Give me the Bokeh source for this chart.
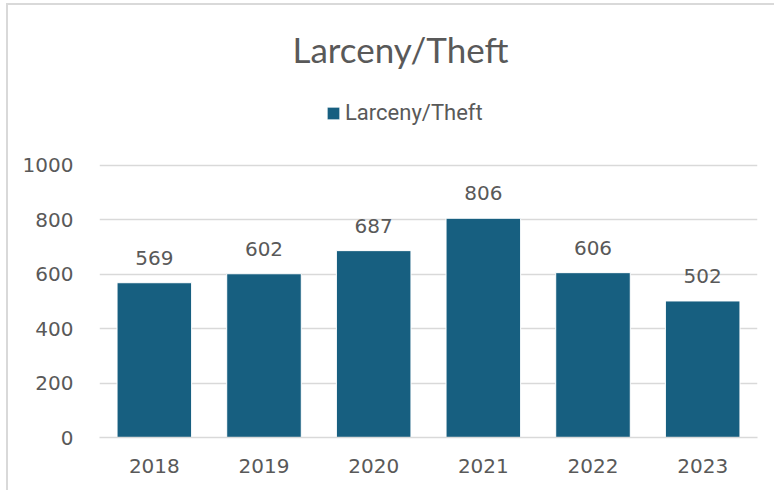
from bokeh.plotting import figure
from bokeh.models import ColumnDataSource, Label, Legend, LegendItem, FixedTicker
from bokeh.embed import file_html
from bokeh.resources import INLINE
from bokeh.core.properties import value

years = ["2018", "2019", "2020", "2021", "2022", "2023"]
counts = [569, 602, 687, 806, 606, 502]
labels = [str(c) for c in counts]
y_ticks = [0, 200, 400, 600, 800, 1000]
title_text = "Larceny/Theft"
series_name = "Larceny/Theft"

BAR = "#175F80"
TXT = "#595959"
GRID = "#D9D9D9"
FONT = "DejaVu Sans"

src = ColumnDataSource(dict(x=years, top=counts, label=labels))

W, H = 774, 490
FL, FB = 99, 437  # frame left / bottom in canvas pixels
p = figure(x_range=years, y_range=(0, 1606.6), width=W, height=H,
           output_backend="svg", toolbar_location=None,
           min_border_left=FL, min_border_right=17,
           min_border_top=0, min_border_bottom=H - FB)
p.outline_line_color = None
p.border_fill_color = None
p.background_fill_color = None

r = p.vbar(x="x", top="top", width=0.68, source=src, fill_color=BAR,
           line_color="white", line_width=1)

p.text(x="x", y="top", text="label", source=src, text_align="center",
       text_baseline="alphabetic", y_offset=-25, text_color=TXT,
       text_font=value(FONT), text_font_size="20px")

p.xgrid.grid_line_color = None
p.ygrid.grid_line_color = GRID
p.ygrid.grid_line_width = 1.5
p.yaxis.ticker = FixedTicker(ticks=y_ticks)

for ax in (p.xaxis, p.yaxis):
    ax.major_tick_line_color = None
    ax.minor_tick_line_color = None
    ax.major_label_text_color = TXT
    ax.major_label_text_font = FONT
    ax.major_label_text_font_size = "20px"
p.yaxis.axis_line_color = None
p.xaxis.axis_line_color = GRID
p.xaxis.axis_line_width = 1.5
p.yaxis.major_label_standoff = 20
p.xaxis.major_label_standoff = 15

title = Label(x=400 - FL, y=FB - 48, x_units="screen", y_units="screen", text=title_text,
              text_align="center", text_baseline="middle", text_color=TXT,
              text_font="Lato", text_font_size="35px")
p.add_layout(title)

legend = Legend(items=[LegendItem(label=series_name, renderers=[r])],
                location=(325 - FL, FB - 125), orientation="horizontal",
                glyph_width=16, glyph_height=16, label_standoff=4,
                label_text_color=TXT, label_text_font="Roboto",
                label_text_font_size="22px", border_line_color=None,
                background_fill_alpha=0, padding=0, margin=0)
p.add_layout(legend, "center")

p.styles = {
    "background": ("linear-gradient(#D9D9D9,#D9D9D9) 6px 3px / 2px 100% no-repeat, "
                   "linear-gradient(#D9D9D9,#D9D9D9) 6px 3px / 100% 2px no-repeat, white"),
}

open("out.html", "w").write(file_html(p, INLINE))
